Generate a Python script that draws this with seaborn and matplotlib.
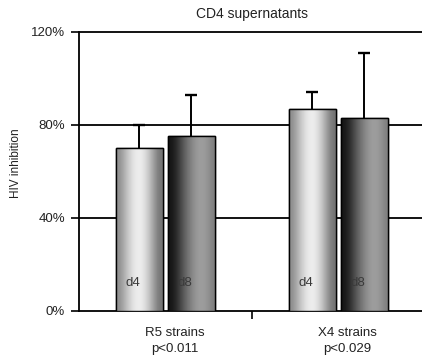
import numpy as np
import pandas as pd
import matplotlib
matplotlib.use("Agg")
import matplotlib.pyplot as plt
import matplotlib.transforms as mtransforms
from matplotlib.ticker import FixedLocator
import seaborn as sns

# Inhibition of HIV by CD4 supernatants (percent), day 4 vs day 8
strains = ["R5 strains", "X4 strains"]
p_values = ["p<0.011", "p<0.029"]
days = ["d4", "d8"]
d4_mean = [70, 87]
d8_mean = [75, 83]
d4_err = [10, 7]
d8_err = [18, 28]
y_ticks = [0, 40, 80, 120]
y_tick_labels = ["0%", "40%", "80%", "120%"]

df = pd.DataFrame({
    "strain": strains * 2,
    "day": [days[0]] * 2 + [days[1]] * 2,
    "value": d4_mean + d8_mean,
    "err": d4_err + d8_err,
})

sns.set_style("white")
plt.rcParams["font.family"] = ["Liberation Sans", "DejaVu Sans"]

fig = plt.figure(figsize=(4.22, 3.59), dpi=100)
ax = fig.add_axes([0.187, 0.135, 0.820, 0.776])

sns.barplot(data=df, x="strain", y="value", hue="day", order=strains,
            hue_order=days, width=0.6, gap=0.1, errorbar=None,
            palette=["#cccccc", "#555555"], edgecolor="black",
            linewidth=1.0, legend=False, ax=ax, zorder=3)

# cylinder-style shading for each bar
shade = {
    "d4": [0.55, 0.62, 0.72, 0.82, 0.89, 0.93, 0.92, 0.86, 0.76, 0.64, 0.52, 0.45],
    "d8": [0.08, 0.12, 0.2, 0.3, 0.4, 0.48, 0.55, 0.6, 0.62, 0.6, 0.56, 0.5],
}
patches = [p for p in ax.patches if p.get_height() > 0]
patches.sort(key=lambda p: p.get_x())
labels_for = [days[0], days[1], days[0], days[1]]
for patch, day in zip(patches, labels_for):
    x0, w, h = patch.get_x(), patch.get_width(), patch.get_height()
    img = ax.imshow(np.array(shade[day])[None, :], cmap="gray", vmin=0, vmax=1,
                    extent=[x0, x0 + w, 0, h], aspect="auto",
                    interpolation="bicubic", zorder=3.5)
    img.set_clip_path(patch)
    edge = plt.Rectangle((x0, 0), w, h, fill=False, edgecolor="black",
                         linewidth=1.0, zorder=4)
    ax.add_patch(edge)
    ax.text(x0 + w * 0.36, 12, day, ha="center", va="center",
            fontsize=9.5, color="#3a3a3a", zorder=5)

# upper error bars only (hide the cap at the bar top)
for patch, (mean, err) in zip(patches, [(d4_mean[0], d4_err[0]), (d8_mean[0], d8_err[0]),
                                        (d4_mean[1], d4_err[1]), (d8_mean[1], d8_err[1])]):
    xc = patch.get_x() + patch.get_width() / 2
    _, caps, _ = ax.errorbar([xc], [mean], yerr=[[0], [err]], fmt="none",
                             ecolor="black", elinewidth=1.4, capsize=4.5,
                             capthick=1.7, zorder=2.5)
    for cap in caps:
        if np.isclose(cap.get_ydata()[0], mean):
            cap.set_visible(False)

ax.set_xlim(-0.5, 1.5)
ax.set_ylim(0, 120)
for yv in y_ticks[1:]:
    ax.axhline(yv, color="black", linewidth=1.3, zorder=1, clip_on=False)

ax.set_yticks(y_ticks)
ax.set_yticklabels(y_tick_labels, fontsize=9.5, color="#222222")
ax.tick_params(axis="y", direction="out", length=6, width=1.2, color="black",
               pad=4, left=True)

ax.set_xticks([0, 1])
ax.set_xticklabels([f"{s}\n{p}" for s, p in zip(strains, p_values)],
                   fontsize=9.5, color="#222222", linespacing=1.45)
ax.tick_params(axis="x", which="major", length=0, pad=12)
ax.xaxis.set_minor_locator(FixedLocator([0.5]))
ax.tick_params(axis="x", which="minor", direction="out", length=6, width=1.2,
               color="black", bottom=True)
offset = mtransforms.ScaledTranslation(9 / 100, 0, fig.dpi_scale_trans)
for lbl in ax.get_xticklabels():
    lbl.set_transform(lbl.get_transform() + offset)

ax.set_xlabel("")
ax.set_ylabel("HIV inhibition", fontsize=8.5, color="#222222", labelpad=14)
ax.yaxis.set_label_coords(-0.165, 0.53)
ax.set_title("CD4 supernatants", fontsize=10, color="#222222", pad=10)

for side in ["top", "right"]:
    ax.spines[side].set_visible(False)
for side in ["left", "bottom"]:
    ax.spines[side].set_color("black")
    ax.spines[side].set_linewidth(1.3)
ax.grid(False)

fig.savefig("out.png", dpi=100)
